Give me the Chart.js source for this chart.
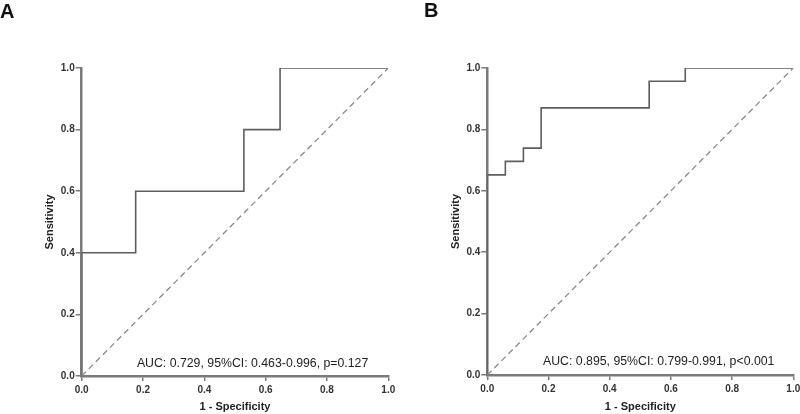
<!DOCTYPE html>
<html>
<head>
<meta charset="utf-8">
<script src="https://cdn.jsdelivr.net/npm/chart.js@4"></script>
<style>
  body { margin: 0; background: #fff; }
  #wrap { position: relative; width: 800px; height: 414px; overflow: hidden; }
  .panel { position: absolute; top: 0; width: 400px; height: 414px; }
  .letter { position: absolute; font: bold 20px "Liberation Sans", Arial, sans-serif; color: #111; line-height: 20px; }
</style>
</head>
<body>
<div id="wrap">
  <div class="panel" style="left:0"><canvas id="chartA" width="400" height="414"></canvas></div>
  <div class="panel" style="left:400px"><canvas id="chartB" width="400" height="414"></canvas></div>
  <div class="letter" style="left:0px;top:1px">A</div>
  <div class="letter" style="left:424px;top:0px">B</div>
</div>
<script>
// ROC curve A (1 - specificity, sensitivity)
const fprA = [0, 0, 0.176, 0.176, 0.529, 0.529, 0.647, 0.647, 1];
const tprA = [0, 0.4, 0.4, 0.6, 0.6, 0.8, 0.8, 1, 1];
const aucTextA = 'AUC: 0.729, 95%CI: 0.463-0.996, p=0.127';

// ROC curve B
const fprB = [0, 0, 0.059, 0.059, 0.118, 0.118, 0.176, 0.176, 0.529, 0.529, 0.647, 0.647, 1];
const tprB = [0, 0.652, 0.652, 0.696, 0.696, 0.739, 0.739, 0.870, 0.870, 0.957, 0.957, 1, 1];
const aucTextB = 'AUC: 0.895, 95%CI: 0.799-0.991, p<0.001';

// reference line
const refX = [0, 1];
const refY = [0, 1];
const tickVals = [0, 0.2, 0.4, 0.6, 0.8, 1.0];

const FONT = '"Liberation Sans", Arial, sans-serif';
const axisGray = '#7a7a7a';

const toPts = (xs, ys) => xs.map((x, i) => ({ x: x, y: ys[i] }));

// draws the AUC text inside the plot
const aucLabel = {
  id: 'aucLabel',
  afterDatasetsDraw(chart, args, opts) {
    const { ctx, scales } = chart;
    ctx.save();
    ctx.font = '12.3px ' + FONT;
    ctx.fillStyle = '#222';
    ctx.textBaseline = 'middle';
    ctx.textAlign = 'left';
    ctx.fillText(opts.text, scales.x.getPixelForValue(opts.x), scales.y.getPixelForValue(opts.y));
    ctx.restore();
  }
};

function makeChart(id, fpr, tpr, text, box) {
  const ctx = document.getElementById(id).getContext('2d');
  return new Chart(ctx, {
    type: 'scatter',
    data: {
      datasets: [
        {
          data: toPts(refX, refY),
          showLine: true,
          borderColor: '#8a8a8a',
          borderWidth: 1.3,
          borderDash: [6, 4],
          pointRadius: 0,
        },
        {
          data: toPts(fpr, tpr),
          showLine: true,
          borderColor: '#5e5e5e',
          borderWidth: 1.6,
          pointRadius: 0,
        }
      ]
    },
    options: {
      responsive: false,
      animation: false,
      events: [],
      layout: { padding: { left: 0, top: box.top, right: box.right, bottom: 0 } },
      plugins: {
        legend: { display: false },
        tooltip: { enabled: false },
        aucLabel: { text: text, x: box.textX, y: box.textY }
      },
      scales: {
        x: {
          type: 'linear',
          min: 0, max: 1,
          afterBuildTicks: s => { s.ticks = tickVals.map(v => ({ value: v })); },
          afterFit: s => { s.height = box.xh; s.paddingLeft = 0; s.paddingRight = 0; },
          ticks: {
            callback: v => v.toFixed(1),
            font: { size: 10, weight: 'bold', family: FONT },
            color: '#333',
            padding: 3,
            maxRotation: 0,
          },
          grid: { drawOnChartArea: false, drawTicks: true, tickLength: 5, color: axisGray, lineWidth: 1.5 },
          border: { display: true, color: axisGray, width: 2.5 },
          title: {
            display: true,
            text: '1 - Specificity',
            font: { size: 11, weight: 'bold', family: FONT },
            color: '#222',
            padding: { top: 0, bottom: 0 }
          }
        },
        y: {
          type: 'linear',
          min: 0, max: 1,
          afterBuildTicks: s => { s.ticks = tickVals.map(v => ({ value: v })); },
          afterFit: s => { s.width = box.yw; s.paddingTop = 0; s.paddingBottom = 0; },
          ticks: {
            callback: v => v.toFixed(1),
            font: { size: 10, weight: 'bold', family: FONT },
            color: '#333',
            padding: 1,
          },
          grid: { drawOnChartArea: false, drawTicks: true, tickLength: 6, color: axisGray, lineWidth: 1.5 },
          border: { display: true, color: axisGray, width: 2.5 },
          title: {
            display: true,
            text: 'Sensitivity',
            font: { size: 11, weight: 'bold', family: FONT },
            color: '#222',
            padding: { top: box.ytPad, bottom: 0 }
          }
        }
      }
    },
    plugins: [aucLabel]
  });
}

makeChart('chartA', fprA, tprA, aucTextA,
  { top: 68, right: 11.7, xh: 38, yw: 81.7, ytPad: 43, textX: 0.18, textY: 0.04 });
makeChart('chartB', fprB, tprB, aucTextB,
  { top: 68, right: 6.7, xh: 39, yw: 87.3, ytPad: 49, textX: 0.182, textY: 0.043 });
</script>
</body>
</html>
